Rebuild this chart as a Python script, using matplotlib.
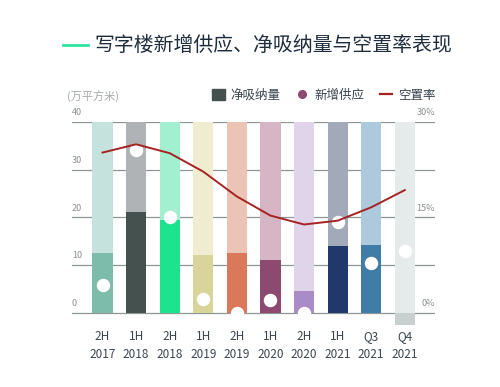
import numpy as np
import matplotlib.pyplot as plt
from matplotlib.lines import Line2D
from matplotlib.patches import Patch

plt.rcParams['font.family'] = ['Noto Sans CJK SC', 'DejaVu Sans']

periods = ['2H\n2017', '1H\n2018', '2H\n2018', '1H\n2019', '2H\n2019',
           '1H\n2020', '2H\n2020', '1H\n2021', 'Q3\n2021', 'Q4\n2021']
net_absorption = [12.5, 21.2, 19.5, 12.1, 12.5, 11.2, 4.5, 14.1, 14.2, -2.6]
new_supply = [5.9, 34.1, 20.0, 2.9, 0.0, 2.7, 0.0, 19.1, 10.5, 13.0]
vacancy = [25.2, 26.5, 25.1, 22.2, 18.3, 15.3, 13.9, 14.5, 16.6, 19.3]

light_colors = ['#c5e3dc', '#b0b3b5', '#a3f0d0', '#f0ecd0', '#ecc4b6',
                '#d6b5c4', '#e0d4ea', '#a2a9b8', '#adc9dc', '#e5eaea']
dark_colors = ['#7dbbaa', '#44514f', '#1de28e', '#d9d49a', '#d9785a',
               '#8c4a70', '#a98bc7', '#20386a', '#3f7ca8', '#c8cfcf']

fig = plt.figure(figsize=(5, 3.87), dpi=100)
ax = fig.add_axes([0.144, 1 - 327.3 / 387, 0.726, (327.3 - 122) / 387])
x = np.arange(len(periods))

ax.set_xlim(-0.91, 9.9)
ax.set_ylim(-3, 40)
for v in [0, 10, 20, 30, 40]:
    ax.axhline(v, color='#8f9696', lw=0.9, zorder=0)

ax.bar(x, [40] * len(x), width=0.6, color=light_colors, zorder=1)
ax.bar(x, net_absorption, width=0.6, color=dark_colors, zorder=2)
ax.scatter(x, new_supply, s=75, color='white', zorder=3, clip_on=False)

for s in ax.spines.values():
    s.set_visible(False)
ax.set_xticks(x)
ax.set_xticklabels(periods, fontsize=8.5, color='#3a4550', linespacing=1.45)
ax.tick_params(axis='x', length=0, pad=2)
ax.set_yticks([])

for v in [0, 10, 20, 30, 40]:
    ax.text(-0.91, v + 1.0, str(v), fontsize=6.5, color='#8a8f90', ha='left', va='bottom')

ax2 = ax.twinx()
ax2.set_ylim(-2.25, 30)
ax2.plot(x, vacancy, color='#a52323', lw=1.4, zorder=5)
ax2.set_yticks([])
for s in ax2.spines.values():
    s.set_visible(False)
for v in [0, 15, 30]:
    ax2.text(9.9, v + 0.75, f'{v}%', fontsize=6.5, color='#8a8f90', ha='right', va='bottom')

# title
fig.add_artist(Line2D([63 / 500, 88 / 500], [1 - 45 / 387] * 2, color='#2ee59d', lw=2))
fig.text(94 / 500, 1 - 45 / 387, '写字楼新增供应、净吸纳量与空置率表现',
         fontsize=14.3, color='#1f2d3d', va='center', ha='left')

fig.text(67 / 500, 1 - 96 / 387, '(万平方米)', fontsize=8, color='#a8abab', va='center')

handles = [Patch(color='#44514f'),
           Line2D([], [], marker='o', ls='none', color='#8c4a70', markersize=5.5),
           Line2D([], [], color='#a52323', lw=1.6)]
fig.legend(handles, ['净吸纳量', '新增供应', '空置率'], loc='center right',
           bbox_to_anchor=(447 / 500, 1 - 95 / 387), ncol=3, frameon=False,
           fontsize=9, handlelength=1.0, handleheight=1.0, handletextpad=0.5,
           columnspacing=1.2, labelcolor='#3a4550')

fig.savefig('out.png', dpi=100)
